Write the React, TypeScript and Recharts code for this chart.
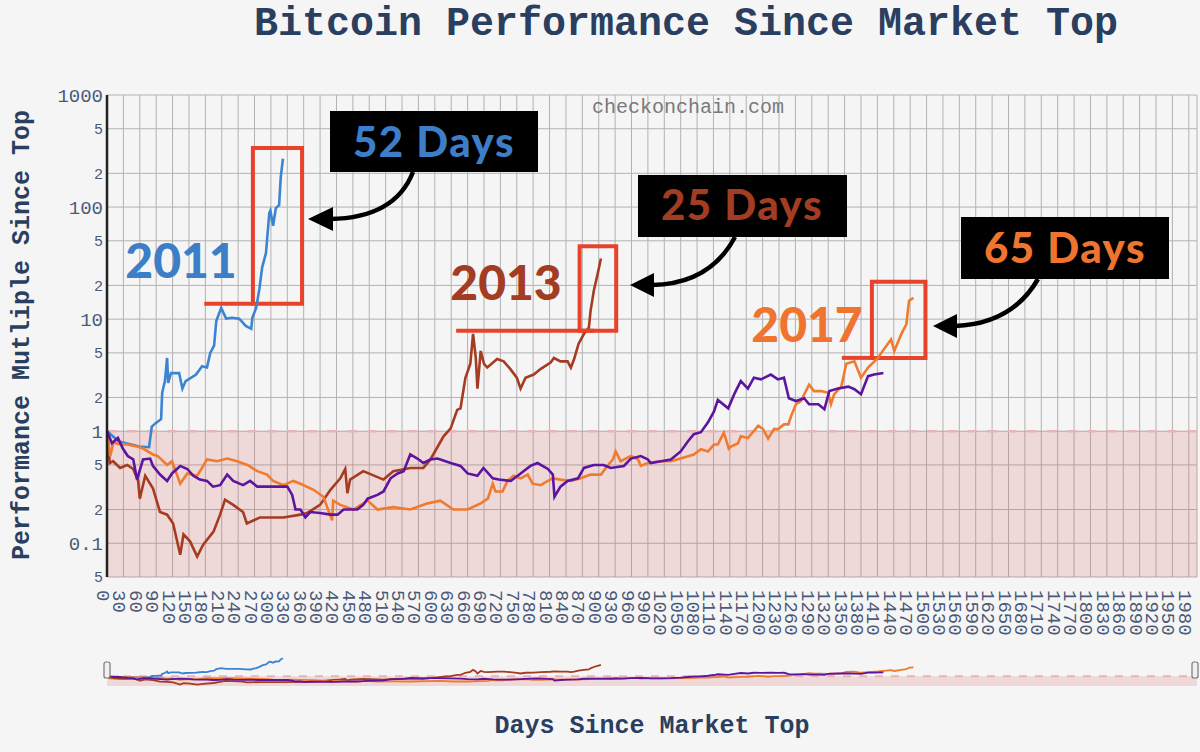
import React from 'react';
import { LineChart, Line, XAxis, YAxis, CartesianGrid, ReferenceArea, ReferenceLine } from 'recharts';

// ---------- data (days since market top, performance multiple) ----------
const days2011 = [0, 22, 35, 59, 77, 82, 89, 99, 101, 106, 110, 112, 117, 132, 138, 144, 163, 174, 183, 189, 196, 200, 209, 218, 229, 242, 254, 264, 266, 273, 279, 284, 291, 297, 299, 304, 309, 315, 318, 322];
const perf2011 = [1.0, 0.81, 0.78, 0.73, 0.72, 1.1, 1.18, 1.28, 2.2, 2.8, 4.5, 2.7, 3.3, 3.3, 2.4, 2.8, 3.2, 3.8, 3.7, 5.0, 5.8, 9.6, 12.6, 10.1, 10.3, 10.1, 8.7, 8.2, 10.3, 12.6, 18.7, 29, 39, 88, 93, 68, 98, 104, 185, 270];

const days2013 = [0, 5, 11, 24, 37, 48, 57, 60, 70, 84, 97, 110, 121, 134, 140, 152, 165, 176, 195, 207, 216, 231, 249, 256, 280, 323, 354, 366, 390, 409, 427, 436, 440, 445, 469, 506, 524, 555, 579, 592, 616, 629, 641, 647, 656, 665, 670, 675, 678, 684, 690, 696, 714, 726, 738, 750, 757, 766, 781, 794, 812, 818, 830, 843, 849, 855, 863, 873, 882, 885, 891, 898, 904];
const perf2013 = [1.0, 0.52, 0.54, 0.47, 0.5, 0.46, 0.36, 0.25, 0.4, 0.31, 0.19, 0.18, 0.15, 0.079, 0.12, 0.104, 0.076, 0.097, 0.127, 0.18, 0.245, 0.22, 0.19, 0.15, 0.17, 0.17, 0.18, 0.186, 0.22, 0.30, 0.38, 0.46, 0.28, 0.37, 0.44, 0.37, 0.44, 0.47, 0.47, 0.56, 0.9, 1.06, 1.55, 1.6, 3.0, 4.0, 7.4, 4.5, 2.4, 5.2, 4.0, 3.7, 4.4, 4.2, 3.6, 3.0, 2.4, 3.0, 3.2, 3.6, 4.1, 4.5, 4.2, 4.2, 3.7, 4.4, 6.0, 7.4, 8.4, 11.8, 17.9, 25.3, 34.8];

const days2017 = [0, 6, 12, 20, 37, 55, 66, 84, 93, 110, 119, 134, 147, 165, 174, 183, 202, 220, 238, 257, 275, 293, 304, 323, 341, 354, 378, 396, 412, 414, 427, 451, 477, 495, 524, 555, 587, 610, 634, 660, 684, 697, 706, 711, 724, 733, 744, 757, 770, 779, 794, 807, 816, 830, 849, 867, 885, 904, 913, 926, 931, 940, 959, 972, 977, 990, 1014, 1032, 1050, 1074, 1087, 1100, 1111, 1118, 1129, 1138, 1142, 1155, 1160, 1173, 1192, 1201, 1210, 1221, 1228, 1239, 1247, 1252, 1261, 1270, 1285, 1294, 1307, 1320, 1325, 1331, 1344, 1353, 1368, 1380, 1393, 1411, 1422, 1435, 1441, 1454, 1463, 1468, 1476];
const perf2017 = [1.0, 0.6, 0.8, 0.77, 0.76, 0.73, 0.70, 0.62, 0.6, 0.5, 0.54, 0.34, 0.42, 0.40, 0.47, 0.56, 0.54, 0.57, 0.54, 0.5, 0.44, 0.41, 0.36, 0.33, 0.36, 0.34, 0.30, 0.26, 0.16, 0.24, 0.22, 0.2, 0.24, 0.2, 0.21, 0.2, 0.227, 0.24, 0.2, 0.2, 0.227, 0.25, 0.34, 0.29, 0.29, 0.36, 0.40, 0.38, 0.41, 0.34, 0.33, 0.36, 0.38, 0.37, 0.36, 0.38, 0.41, 0.41, 0.47, 0.56, 0.66, 0.54, 0.6, 0.56, 0.49, 0.52, 0.54, 0.54, 0.57, 0.62, 0.69, 0.66, 0.76, 0.76, 0.97, 0.70, 0.73, 0.78, 0.9, 0.87, 1.12, 1.04, 0.86, 1.05, 1.04, 1.15, 1.15, 1.36, 1.74, 1.86, 2.6, 2.28, 2.28, 2.2, 1.74, 2.14, 2.5, 4.0, 4.2, 3.0, 3.7, 4.5, 5.4, 6.6, 5.2, 7.4, 9.0, 14.6, 15.5];

const days2021 = [0, 9, 20, 29, 38, 48, 55, 66, 79, 84, 97, 110, 119, 134, 147, 158, 170, 183, 194, 207, 220, 231, 249, 262, 275, 293, 312, 330, 339, 345, 354, 363, 372, 390, 409, 422, 433, 458, 469, 477, 495, 506, 519, 532, 543, 555, 568, 579, 592, 605, 629, 647, 660, 678, 689, 706, 717, 739, 757, 775, 788, 807, 816, 819, 830, 843, 862, 873, 891, 909, 922, 946, 959, 977, 990, 995, 1014, 1032, 1050, 1063, 1074, 1087, 1100, 1111, 1118, 1137, 1148, 1160, 1173, 1184, 1197, 1215, 1228, 1239, 1248, 1261, 1276, 1285, 1302, 1313, 1322, 1338, 1357, 1368, 1380, 1393, 1404, 1421];
const perf2021 = [1.0, 0.78, 0.87, 0.70, 0.6, 0.56, 0.37, 0.56, 0.57, 0.49, 0.41, 0.36, 0.42, 0.49, 0.46, 0.40, 0.37, 0.36, 0.32, 0.33, 0.41, 0.36, 0.33, 0.36, 0.32, 0.32, 0.32, 0.32, 0.27, 0.2, 0.2, 0.17, 0.19, 0.186, 0.18, 0.18, 0.2, 0.2, 0.22, 0.25, 0.27, 0.29, 0.38, 0.42, 0.44, 0.62, 0.57, 0.52, 0.56, 0.57, 0.52, 0.49, 0.42, 0.40, 0.47, 0.38, 0.37, 0.36, 0.42, 0.49, 0.52, 0.46, 0.41, 0.26, 0.32, 0.36, 0.38, 0.47, 0.5, 0.5, 0.47, 0.49, 0.57, 0.6, 0.56, 0.52, 0.54, 0.56, 0.66, 0.81, 0.94, 0.98, 1.2, 1.5, 1.9, 1.6, 2.14, 2.8, 2.4, 3.0, 2.9, 3.2, 2.9, 3.0, 1.97, 1.86, 1.97, 1.74, 1.74, 1.57, 2.28, 2.4, 2.5, 2.37, 2.14, 3.1, 3.2, 3.3];

const xTicks = [0, 30, 60, 90, 120, 150, 180, 210, 240, 270, 300, 330, 360, 390, 420, 450, 480, 510, 540, 570, 600, 630, 660, 690, 720, 750, 780, 810, 840, 870, 900, 930, 960, 990, 1020, 1050, 1080, 1110, 1140, 1170, 1200, 1230, 1260, 1290, 1320, 1350, 1380, 1410, 1440, 1470, 1500, 1530, 1560, 1590, 1620, 1650, 1680, 1710, 1740, 1770, 1800, 1830, 1860, 1890, 1920, 1950, 1980];
const yTicks = [0.05, 0.1, 0.2, 0.5, 1, 2, 5, 10, 20, 50, 100, 200, 500, 1000];
const yTickLabels = ['5', '0.1', '2', '5', '1', '2', '5', '10', '2', '5', '100', '2', '5', '1000'];
const yMajor = [0.1, 1, 10, 100, 1000];
const xDomain = [0, 1995];
const yDomain = [0.05, 1000];

// rally annotations: box corners in (day, multiple) and start of the horizontal "prior top" line
const box2011 = { x1: 267, x2: 357, y1: 13.7, y2: 337, lineFrom: 178 };
const box2013 = { x1: 865, x2: 932, y1: 7.86, y2: 44.6, lineFrom: 639, lineTo: 892 };
const box2017 = { x1: 1400, x2: 1498, y1: 4.51, y2: 21.6, lineFrom: 1345 };

const zip = (ds: number[], vs: number[]) => ds.map((d, i) => ({ d, v: vs[i] }));
const s2011 = zip(days2011, perf2011);
const s2013 = zip(days2013, perf2013);
const s2017 = zip(days2017, perf2017);
const s2021 = zip(days2021, perf2021);

const C_BLUE = '#3b84d2';
const C_BROWN = '#a53b20';
const C_ORANGE = '#f07a2e';
const C_PURPLE = '#5c159e';
const C_RED = '#e8432a';
const C_TEXT = '#2a3f5f';
const C_TICK = '#4b5a78';
const MONO = "'Liberation Mono', 'DejaVu Sans Mono', monospace";
const ANN = "Lato, 'Open Sans', sans-serif";

const YTick = (props: any) => {
  const { x, y, payload } = props;
  const v = payload.value;
  const idx = yTicks.indexOf(v);
  const major = yMajor.includes(v);
  return (
    <text x={x} y={y} dy="0.35em" textAnchor="end" fontFamily={MONO} fontSize={major ? 19 : 15} fill={C_TICK}>
      {yTickLabels[idx]}
    </text>
  );
};

const XTick = (props: any) => {
  const { x, y, payload } = props;
  return (
    <g transform={`translate(${x},${y})`}>
      <text transform="rotate(90)" x={0} y={0} dy={10} textAnchor="start" fontFamily={MONO} fontSize={19} fill={C_TICK}>
        {String(payload.value)}
      </text>
    </g>
  );
};

const series = [
  { data: s2011, color: C_BLUE, key: 'b' },
  { data: s2013, color: C_BROWN, key: 'r' },
  { data: s2017, color: C_ORANGE, key: 'o' },
  { data: s2021, color: C_PURPLE, key: 'p' },
];

export default function App() {
  return (
    <div style={{ position: 'absolute', left: 0, top: 0, width: 1200, height: 752, background: '#f5f5f5', overflow: 'hidden' }}>
      <div style={{ position: 'absolute', left: 0, top: 0 }}>
        <LineChart width={1200} height={752} margin={{ top: 95, right: 3, left: 0, bottom: 0 }}>
          <CartesianGrid stroke="#b2b2b2" strokeWidth={1} />
          <XAxis
            dataKey="d"
            type="number"
            domain={xDomain}
            ticks={xTicks}
            interval={0}
            allowDataOverflow
            axisLine={false}
            tickLine={false}
            tickSize={0}
            tickMargin={13}
            height={175}
            tick={<XTick />}
          />
          <YAxis
            dataKey="v"
            type="number"
            scale="log"
            domain={yDomain}
            ticks={yTicks}
            interval={0}
            allowDataOverflow
            width={107}
            axisLine={{ stroke: '#222', strokeWidth: 2.5 }}
            tickLine={false}
            tickSize={2}
            tickMargin={2}
            tick={<YTick />}
          />
          <ReferenceArea y1={0.05} y2={1} x1={0} x2={1995} fill="rgb(214,80,80)" fillOpacity={0.17} stroke="none" />
          <ReferenceLine y={1} stroke="#eab4b4" strokeWidth={2.5} strokeDasharray="10 10" />
          {series.map((s) => (
            <Line
              key={s.key}
              data={s.data}
              dataKey="v"
              type="linear"
              stroke={s.color}
              strokeWidth={2.6}
              dot={false}
              activeDot={false}
              isAnimationActive={false}
            />
          ))}
          {[box2011, box2013, box2017].map((b, i) => (
            <ReferenceArea key={'box' + i} x1={b.x1} x2={b.x2} y1={b.y1} y2={b.y2} fill="none" fillOpacity={0} stroke={C_RED} strokeWidth={4} />
          ))}
          {[box2011, box2013, box2017].map((b: any, i) => (
            <ReferenceLine
              key={'hl' + i}
              segment={[{ x: b.lineFrom, y: b.y1 }, { x: b.lineTo ?? b.x1, y: b.y1 }]}
              stroke={C_RED}
              strokeWidth={4}
            />
          ))}
        </LineChart>
      </div>

      {/* range slider panorama */}
      <div style={{ position: 'absolute', left: 0, top: 654 }}>
        <LineChart width={1200} height={32} margin={{ top: 0, right: 3, left: 107, bottom: 0 }}>
          <XAxis dataKey="d" type="number" domain={xDomain} hide allowDataOverflow />
          <YAxis dataKey="v" type="number" scale="log" domain={yDomain} hide allowDataOverflow />
          <ReferenceArea y1={0.05} y2={1} x1={0} x2={1995} fill="rgb(214,80,80)" fillOpacity={0.17} stroke="none" />
          <ReferenceLine y={1} stroke="#eab4b4" strokeWidth={2} strokeDasharray="8 8" />
          {series.map((s) => (
            <Line
              key={'m' + s.key}
              data={s.data}
              dataKey="v"
              type="linear"
              stroke={s.color}
              strokeWidth={1.8}
              dot={false}
              activeDot={false}
              isAnimationActive={false}
            />
          ))}
        </LineChart>
      </div>

      <svg width={1200} height={752} style={{ position: 'absolute', left: 0, top: 0, pointerEvents: 'none' }}>
        {/* title */}
        <text x={686} y={35} textAnchor="middle" fontFamily={MONO} fontWeight="bold" fontSize={40} fill={C_TEXT}>
          Bitcoin Performance Since Market Top
        </text>
        <text x={688} y={113} textAnchor="middle" fontFamily={MONO} fontSize={20} fill="#7a7a7a">
          checkonchain.com
        </text>
        <text transform="translate(29,335) rotate(-90)" textAnchor="middle" fontFamily={MONO} fontWeight="bold" fontSize={25} fill={C_TEXT}>
          Performance Mutliple Since Top
        </text>
        <text x={652} y={733} textAnchor="middle" fontFamily={MONO} fontWeight="bold" fontSize={25} fill={C_TEXT}>
          Days Since Market Top
        </text>

        {/* slider handles */}
        <rect x={104} y={662} width={6} height={16} rx={2} fill="#f0f0f0" stroke="#777" strokeWidth={1.2} />
        <rect x={1192} y={662} width={6} height={16} rx={2} fill="#f0f0f0" stroke="#777" strokeWidth={1.2} />

        {/* year labels */}
        <text x={181} y={278} textAnchor="middle" fontFamily={ANN} fontWeight={900} fontSize={48} fill="#3c7ec8">2011</text>
        <text x={506} y={300} textAnchor="middle" fontFamily={ANN} fontWeight={900} fontSize={48} fill="#a23c22">2013</text>
        <text x={807} y={342} textAnchor="middle" fontFamily={ANN} fontWeight={900} fontSize={48} fill="#ee7430">2017</text>

        {/* day-count boxes */}
        <rect x={330} y={111} width={208} height={61} fill="#000" />
        <text x={434} y={157} textAnchor="middle" fontFamily={ANN} fontWeight={900} fontSize={42} letterSpacing={1.5} fill="#3c7ec8">52 Days</text>
        <rect x={638} y={175} width={209} height={62} fill="#000" />
        <text x={742} y={220} textAnchor="middle" fontFamily={ANN} fontWeight={900} fontSize={42} letterSpacing={1.5} fill="#a23c22">25 Days</text>
        <rect x={961} y={217} width={208} height={62} fill="#000" />
        <text x={1065} y={263} textAnchor="middle" fontFamily={ANN} fontWeight={900} fontSize={42} letterSpacing={1.5} fill="#ee7430">65 Days</text>

        {/* arrows */}
        <path d="M413,172 Q395,218 330,219" fill="none" stroke="#000" strokeWidth={4.5} />
        <polygon points="308,219 333,207 333,231" fill="#000" />
        <path d="M735,237 Q710,284 652,285" fill="none" stroke="#000" strokeWidth={4.5} />
        <polygon points="630,285 654,273 654,297" fill="#000" />
        <path d="M1038,279 Q1012,324 955,326" fill="none" stroke="#000" strokeWidth={4.5} />
        <polygon points="933,326 957,314 957,338" fill="#000" />
      </svg>
    </div>
  );
}
